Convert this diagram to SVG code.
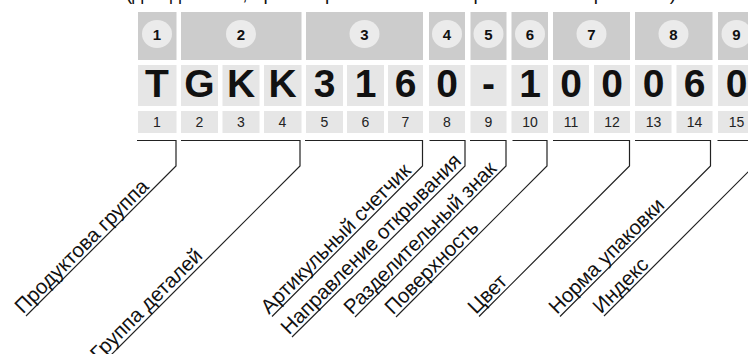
<svg xmlns="http://www.w3.org/2000/svg" width="748" height="354" viewBox="0 0 748 354">
<style>
.hdr{fill:#cccccc}
.cell{fill:#e6e6e6}
.circ{fill:#ebebeb}
.cn{font-family:"Liberation Sans",Arial,sans-serif;font-weight:bold;font-size:15px;fill:#111;text-anchor:middle}
.big{font-family:"Liberation Sans",Arial,sans-serif;font-weight:bold;font-size:39px;fill:#111;text-anchor:middle}
.pos{font-family:"Liberation Sans",Arial,sans-serif;font-size:14px;fill:#222;text-anchor:middle}
.lbl{font-family:"Liberation Sans",Arial,sans-serif;font-size:20.5px;fill:#111}
.top{font-family:"Liberation Sans",Arial,sans-serif;font-size:19px;fill:#111;text-anchor:middle}
.br{fill:none;stroke:#222;stroke-width:1.2}
</style>
<rect width="748" height="354" fill="#ffffff"/>
<text class="top" x="401" y="0">(для деталей, ориентированных по направлению открывания)</text>

<g id="header">
<rect class="hdr" x="138" y="12" width="38.5" height="48"/>
<rect class="hdr" x="181" y="12" width="120.5" height="48"/>
<rect class="hdr" x="306" y="12" width="117" height="48"/>
<rect class="hdr" x="429" y="12" width="36" height="48"/>
<rect class="hdr" x="470.5" y="12" width="36" height="48"/>
<rect class="hdr" x="511.5" y="12" width="36.5" height="48"/>
<rect class="hdr" x="553" y="12" width="77" height="48"/>
<rect class="hdr" x="635" y="12" width="77.5" height="48"/>
<rect class="hdr" x="718" y="12" width="37" height="48"/>
<ellipse class="circ" cx="157" cy="34" rx="15" ry="14"/><text class="cn" x="157" y="39.5">1</text>
<ellipse class="circ" cx="241" cy="34" rx="15" ry="14"/><text class="cn" x="241" y="39.5">2</text>
<ellipse class="circ" cx="364.5" cy="34" rx="15" ry="14"/><text class="cn" x="364.5" y="39.5">3</text>
<ellipse class="circ" cx="447" cy="34" rx="15" ry="14"/><text class="cn" x="447" y="39.5">4</text>
<ellipse class="circ" cx="488.5" cy="34" rx="15" ry="14"/><text class="cn" x="488.5" y="39.5">5</text>
<ellipse class="circ" cx="530" cy="34" rx="15" ry="14"/><text class="cn" x="530" y="39.5">6</text>
<ellipse class="circ" cx="591.5" cy="34" rx="15" ry="14"/><text class="cn" x="591.5" y="39.5">7</text>
<ellipse class="circ" cx="673.5" cy="34" rx="15" ry="14"/><text class="cn" x="673.5" y="39.5">8</text>
<ellipse class="circ" cx="736.5" cy="34" rx="15" ry="14"/><text class="cn" x="736.5" y="39.5">9</text>
</g>

<g id="code">
<rect class="cell" x="138" y="65" width="38.5" height="41"/><text class="big" x="157" y="96.5">T</text>
<rect class="cell" x="181" y="65" width="37" height="41"/><text class="big" x="199.5" y="96.5">G</text>
<rect class="cell" x="222.5" y="65" width="37" height="41"/><text class="big" x="241" y="96.5">K</text>
<rect class="cell" x="264" y="65" width="37.5" height="41"/><text class="big" x="282.5" y="96.5">K</text>
<rect class="cell" x="306" y="65" width="37" height="41"/><text class="big" x="324.5" y="96.5">3</text>
<rect class="cell" x="347" y="65" width="37" height="41"/><text class="big" x="365.5" y="96.5">1</text>
<rect class="cell" x="388" y="65" width="35" height="41"/><text class="big" x="405.5" y="96.5">6</text>
<rect class="cell" x="429" y="65" width="36" height="41"/><text class="big" x="447" y="96.5">0</text>
<rect class="cell" x="470.5" y="65" width="36" height="41"/><text class="big" x="488.5" y="96.5">-</text>
<rect class="cell" x="511.5" y="65" width="36.5" height="41"/><text class="big" x="530" y="96.5">1</text>
<rect class="cell" x="553" y="65" width="36" height="41"/><text class="big" x="571" y="96.5">0</text>
<rect class="cell" x="594" y="65" width="36" height="41"/><text class="big" x="612" y="96.5">0</text>
<rect class="cell" x="635" y="65" width="36.5" height="41"/><text class="big" x="653.5" y="96.5">0</text>
<rect class="cell" x="676.5" y="65" width="36" height="41"/><text class="big" x="694.5" y="96.5">6</text>
<rect class="cell" x="718" y="65" width="37" height="41"/><text class="big" x="736.5" y="96.5">0</text>
</g>

<g id="positions">
<rect class="cell" x="138" y="111" width="38.5" height="22"/><text class="pos" x="157" y="127">1</text>
<rect class="cell" x="181" y="111" width="37" height="22"/><text class="pos" x="199.5" y="127">2</text>
<rect class="cell" x="222.5" y="111" width="37" height="22"/><text class="pos" x="241" y="127">3</text>
<rect class="cell" x="264" y="111" width="37.5" height="22"/><text class="pos" x="282.5" y="127">4</text>
<rect class="cell" x="306" y="111" width="37" height="22"/><text class="pos" x="324.5" y="127">5</text>
<rect class="cell" x="347" y="111" width="37" height="22"/><text class="pos" x="365.5" y="127">6</text>
<rect class="cell" x="388" y="111" width="35" height="22"/><text class="pos" x="405.5" y="127">7</text>
<rect class="cell" x="429" y="111" width="36" height="22"/><text class="pos" x="447" y="127">8</text>
<rect class="cell" x="470.5" y="111" width="36" height="22"/><text class="pos" x="488.5" y="127">9</text>
<rect class="cell" x="511.5" y="111" width="36.5" height="22"/><text class="pos" x="530" y="127">10</text>
<rect class="cell" x="553" y="111" width="36" height="22"/><text class="pos" x="571" y="127">11</text>
<rect class="cell" x="594" y="111" width="36" height="22"/><text class="pos" x="612" y="127">12</text>
<rect class="cell" x="635" y="111" width="36.5" height="22"/><text class="pos" x="653.5" y="127">13</text>
<rect class="cell" x="676.5" y="111" width="36" height="22"/><text class="pos" x="694.5" y="127">14</text>
<rect class="cell" x="718" y="111" width="37" height="22"/><text class="pos" x="736.5" y="127">15</text>
</g>

<g id="connectors">
<path class="br" d="M137 140.5 H176 V166 L26 316"/>
<path class="br" d="M181 140.5 H300 V166 L100 366"/>
<path class="br" d="M305 140.5 H422.5 V166 L272 316.5"/>
<path class="br" d="M429.5 140.5 H465 V166 L292 337"/>
<path class="br" d="M470 140.5 H506 V166 L355 317"/>
<path class="br" d="M512.5 140.5 H547 V166 L396 317"/>
<path class="br" d="M553 140.5 H629.5 V166 L479 316.5"/>
<path class="br" d="M635 140.5 H710.5 V166 L560 316.5"/>
<path class="br" d="M717.5 140.5 H754 V166 L604 316"/>
</g>

<g id="labels">
<text class="lbl" transform="translate(23,314.5) rotate(-45)">Продуктова группа</text>
<text class="lbl" transform="translate(98.5,362) rotate(-45)">Группа деталей</text>
<text class="lbl" transform="translate(269,315) rotate(-45)">Артикульный счетчик</text>
<text class="lbl" transform="translate(289,335.5) rotate(-45)">Направление открывания</text>
<text class="lbl" transform="translate(352,315.5) rotate(-45)">Разделительный знак</text>
<text class="lbl" transform="translate(393,315.5) rotate(-45)">Поверхность</text>
<text class="lbl" transform="translate(476,315) rotate(-45)">Цвет</text>
<text class="lbl" transform="translate(557,315) rotate(-45)">Норма упаковки</text>
<text class="lbl" transform="translate(601,314.5) rotate(-45)">Индекс</text>
</g>
</svg>
